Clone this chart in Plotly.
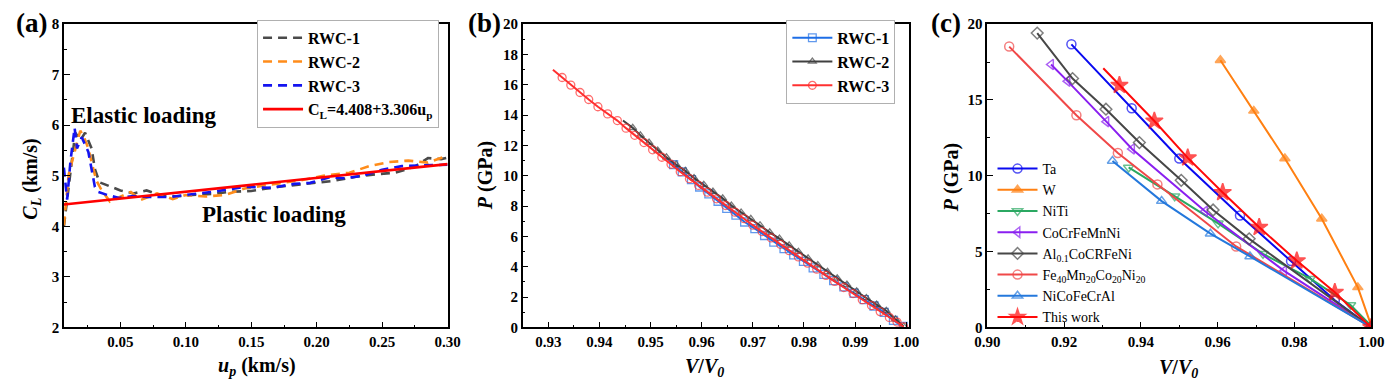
import plotly.graph_objects as go

FONT = "Liberation Serif"
W, H, OFF = 1392, 382, 8   # page body margin of 8px shifts the figure; fill the window exactly

# ---------------- Panel (a) data ----------------
a_u1 = [0.0068, 0.0105, 0.013, 0.0155, 0.0193, 0.023, 0.028, 0.0305, 0.034, 0.040, 0.050, 0.060, 0.070, 0.080,
        0.093, 0.105, 0.120, 0.133, 0.150, 0.170, 0.190, 0.213, 0.230, 0.245, 0.260, 0.275, 0.285, 0.295, 0.300]
a_c1 = [4.00, 4.78, 5.35, 5.85, 5.70, 5.85, 5.54, 5.13, 4.87, 4.81, 4.71, 4.65, 4.71, 4.62,
        4.59, 4.62, 4.64, 4.68, 4.70, 4.78, 4.84, 4.90, 4.98, 5.03, 5.06, 5.18, 5.35, 5.33, 5.36]
a_u2 = [0.0068, 0.0105, 0.013, 0.0193, 0.0218, 0.0255, 0.029, 0.0318, 0.0355, 0.042, 0.048, 0.058, 0.0655, 0.078,
        0.090, 0.100, 0.115, 0.130, 0.145, 0.170, 0.190, 0.205, 0.225, 0.240, 0.255, 0.270, 0.285, 0.298, 0.300]
a_c2 = [4.02, 5.03, 5.28, 5.89, 5.79, 5.54, 5.16, 4.90, 4.72, 4.49, 4.56, 4.68, 4.52, 4.65,
        4.54, 4.62, 4.59, 4.62, 4.75, 4.84, 4.92, 5.00, 5.06, 5.19, 5.27, 5.30, 5.26, 5.38, 5.40]
a_u3 = [0.0068, 0.0093, 0.0118, 0.0150, 0.0168, 0.0205, 0.0255, 0.0305, 0.033, 0.040, 0.049, 0.060, 0.070, 0.088,
        0.100, 0.120, 0.145, 0.165, 0.183, 0.195, 0.210, 0.222, 0.235, 0.250, 0.265, 0.280, 0.298, 0.300]
a_c3 = [5.16, 4.53, 5.28, 5.95, 5.54, 5.76, 5.47, 4.78, 4.68, 4.62, 4.56, 4.60, 4.58, 4.58,
        4.62, 4.68, 4.78, 4.76, 4.84, 4.86, 4.97, 4.95, 5.00, 5.12, 5.19, 5.20, 5.22, 5.22]
a_fit_u = [0.0068, 0.300]
a_fit_c = [4.43, 5.23]
a_names = ["RWC-1", "RWC-2", "RWC-3", "C<sub>L</sub>=4.408+3.306u<sub>p</sub>"]

# ---------------- Panel (b) data ----------------
b_v1 = [0.9528, 0.9545, 0.9562, 0.9580, 0.9596, 0.9614, 0.9632, 0.9649, 0.9667, 0.9684, 0.9704, 0.9723, 0.9741,
        0.9761, 0.9780, 0.9799, 0.9818, 0.9839, 0.9858, 0.9878, 0.9898, 0.9918, 0.9937, 0.9957, 0.9975, 0.9994]
b_p1 = [11.26, 10.74, 10.25, 9.75, 9.26, 8.80, 8.32, 7.85, 7.41, 6.95, 6.51, 6.06, 5.62,
        5.20, 4.78, 4.36, 3.92, 3.49, 3.09, 2.67, 2.25, 1.83, 1.41, 0.99, 0.46, 0.06]
b_v2 = [0.9446, 0.9465, 0.9480, 0.9497, 0.9514, 0.9531, 0.9550, 0.9568, 0.9585, 0.9604, 0.9622, 0.9641, 0.9658,
        0.9677, 0.9696, 0.9714, 0.9733, 0.9752, 0.9771, 0.9789, 0.9808, 0.9827, 0.9846, 0.9865, 0.9884, 0.9903,
        0.9922, 0.9942, 0.9961, 0.9979, 0.9995]
b_p2 = [13.64, 13.16, 12.67, 12.19, 11.66, 11.22, 10.74, 10.32, 9.85, 9.41, 8.95, 8.51, 8.04,
        7.58, 7.16, 6.74, 6.27, 5.85, 5.41, 4.99, 4.55, 4.11, 3.66, 3.24, 2.82, 2.38,
        1.94, 1.50, 1.09, 0.53, 0.06]
b_v3 = [0.9309, 0.9327, 0.9344, 0.9362, 0.9379, 0.9397, 0.9416, 0.9435, 0.9452, 0.9469, 0.9487, 0.9504, 0.9522,
        0.9540, 0.9558, 0.9576, 0.9594, 0.9611, 0.9629, 0.9647, 0.9665, 0.9683, 0.9700, 0.9718, 0.9736, 0.9754,
        0.9771, 0.9789, 0.9807, 0.9825, 0.9843, 0.9860, 0.9878, 0.9896, 0.9914, 0.9932, 0.9949, 0.9967, 0.9982, 0.9995]
b_p3 = [16.99, 16.48, 15.98, 15.49, 15.03, 14.55, 14.08, 13.64, 13.14, 12.67, 12.19, 11.71, 11.22,
        10.76, 10.27, 9.81, 9.36, 8.92, 8.48, 8.04, 7.60, 7.17, 6.74, 6.32, 5.90, 5.48,
        5.06, 4.65, 4.24, 3.84, 3.43, 3.03, 2.63, 2.23, 1.83, 1.44, 1.04, 0.66, 0.35, 0.04]
b_names = ["RWC-1", "RWC-2", "RWC-3"]

# ---------------- Panel (c) data ----------------
c_names = ["Ta", "W", "NiTi", "CoCrFeMnNi", "Al<sub>0.1</sub>CoCRFeNi",
           "Fe<sub>40</sub>Mn<sub>20</sub>Co<sub>20</sub>Ni<sub>20</sub>", "NiCoFeCrAl", "This work"]
c_v = [
    [0.9219, 0.9376, 0.9500, 0.9658, 0.9791, 0.9905, 1.0],
    [0.9607, 0.9694, 0.9775, 0.9871, 0.9965, 1.0],
    [0.9368, 0.9488, 0.9601, 0.9718, 0.9841, 0.9946, 1.0],
    [0.9166, 0.9209, 0.9310, 0.9377, 0.9567, 0.9773, 1.0],
    [0.9130, 0.9222, 0.9309, 0.9396, 0.9505, 0.9588, 0.9682, 1.0],
    [0.9057, 0.9232, 0.9340, 0.9443, 0.9648, 1.0],
    [0.9326, 0.9454, 0.9581, 0.9684, 1.0],
    [0.9302, 0.9344, 0.9435, 0.9522, 0.9613, 0.9708, 0.9806, 0.9905, 1.0],
]
c_p = [
    [18.67, 14.45, 11.14, 7.38, 4.37, 1.79, 0.0],
    [17.62, 14.28, 11.14, 7.17, 2.64, 0.1],
    [10.55, 8.65, 6.86, 4.85, 3.21, 1.48, 0.1],
    [17.34, 16.24, 13.57, 11.77, 7.66, 3.73, 0.0],
    [19.41, 16.41, 14.39, 12.19, 9.70, 7.74, 5.84, 0.0],
    [18.52, 13.99, 11.50, 9.43, 5.34, 0.0],
    [10.97, 8.33, 6.18, 4.68, 0.0],
    [17.09, 15.97, 13.61, 11.18, 8.90, 6.60, 4.39, 2.32, 0.0],
]
c_colors = ["#0A0AF0", "#FF8012", "#2BA862", "#8A1FF0", "#474747", "#F04848", "#2478DC", "#FF0A0A"]
c_symbols = ["circle-open", "triangle-up", "triangle-down-open", "triangle-left-open",
             "diamond-open", "circle-open", "triangle-up-open", "star"]


def fx(X):  # screen pixel -> paper fraction
    return (X - OFF) / W


def fy(Y):
    return 1 - (Y - OFF) / H


def B(s):
    return "<b>" + s + "</b>"


fig = go.Figure()

# Panel (a)
a_cols = ["#4A4A4A", "#FF8C1A", "#1414F0"]
for u, c, col, nm in zip([a_u1, a_u2, a_u3], [a_c1, a_c2, a_c3], a_cols, a_names[:3]):
    fig.add_trace(go.Scatter(x=u, y=c, mode="lines", name=B(nm), xaxis="x", yaxis="y", legend="legend",
                             line=dict(color=col, width=2.6, dash="9px,6px")))
fig.add_trace(go.Scatter(x=a_fit_u, y=a_fit_c, mode="lines", name=B(a_names[3]), xaxis="x", yaxis="y",
                         legend="legend", line=dict(color="#FF0000", width=2.6)))

# Panel (b)
b_cols = ["#1E6EE6", "#404040", "#FF3030"]
b_syms = ["square-open", "triangle-up-open", "circle-open"]
b_sizes = [8, 7, 8]
for v, p, col, sy, sz, nm in zip([b_v1, b_v2, b_v3], [b_p1, b_p2, b_p3], b_cols, b_syms, b_sizes, b_names):
    sizes = [0] + [sz] * (len(v) - 1)
    fig.add_trace(go.Scatter(x=v, y=p, mode="lines+markers", name=B(nm), xaxis="x2", yaxis="y2", legend="legend2",
                             line=dict(color=col, width=2),
                             marker=dict(symbol=sy, size=sizes, color=col, line=dict(width=1.3, color=col))))

# Panel (c)
for v, p, col, sy, nm in zip(c_v, c_p, c_colors, c_symbols, c_names):
    sz = 13 if sy == "star" else 9
    sizes = [sz] * len(v)
    if nm == "This work":
        sizes[0] = 0
    fig.add_trace(go.Scatter(x=v, y=p, mode="lines+markers", name=nm, xaxis="x3", yaxis="y3", legend="legend3",
                             line=dict(color=col, width=2),
                             marker=dict(symbol=sy, size=sizes, color=col, line=dict(width=1.5, color=col))))


def ax(domain, rng, tickvals, ticktext, minor_dtick, anchor):
    return dict(domain=domain, range=rng, tickvals=tickvals, ticktext=[B(t) for t in ticktext], anchor=anchor,
                showline=True, linecolor="black", linewidth=1.5, mirror=True, ticks="inside", ticklen=6,
                tickwidth=1.3, tickcolor="black", showgrid=False, zeroline=False,
                tickfont=dict(family=FONT, size=15, color="black"),
                minor=dict(ticks="inside", ticklen=3, tickwidth=1.2, tickcolor="black", dtick=minor_dtick,
                           tick0=0, showgrid=False))


ydom = [fy(333), fy(16.5)]
layout = dict(
    width=W, height=H, margin=dict(l=0, r=0, t=0, b=0),
    paper_bgcolor="white", plot_bgcolor="white", showlegend=True,
    xaxis=ax([fx(51.7), fx(442.7)], [0.0068, 0.30], [0.05, 0.10, 0.15, 0.20, 0.25, 0.30],
             ["0.05", "0.10", "0.15", "0.20", "0.25", "0.30"], 0.025, "y"),
    yaxis=ax(ydom, [2, 8], [2, 3, 4, 5, 6, 7, 8], ["2", "3", "4", "5", "6", "7", "8"], 0.5, "x"),
    xaxis2=ax([fx(519.3), fx(912.7)], [0.925, 1.0005], [0.93, 0.94, 0.95, 0.96, 0.97, 0.98, 0.99, 1.00],
              ["0.93", "0.94", "0.95", "0.96", "0.97", "0.98", "0.99", "1.00"], 0.005, "y2"),
    yaxis2=ax(ydom, [0, 20], list(range(0, 21, 2)), [str(t) for t in range(0, 21, 2)], 1, "x2"),
    xaxis3=ax([fx(992.7), fx(1384)], [0.90, 1.0], [0.90, 0.92, 0.94, 0.96, 0.98, 1.00],
              ["0.90", "0.92", "0.94", "0.96", "0.98", "1.00"], 0.01, "y3"),
    yaxis3=ax(ydom, [0, 20], [0, 5, 10, 15, 20], ["0", "5", "10", "15", "20"], 2.5, "x3"),
    legend=dict(x=fx(434), y=fy(12), xanchor="right", yanchor="top", bgcolor="white",
                bordercolor="#B0B0B0", borderwidth=1, font=dict(family=FONT, size=16, color="black"),
                itemwidth=40),
    legend2=dict(x=fx(899), y=fy(12), xanchor="right", yanchor="top", bgcolor="white",
                 bordercolor="#B0B0B0", borderwidth=1, font=dict(family=FONT, size=16, color="black"),
                 itemwidth=40),
    legend3=dict(x=fx(998), y=fy(151), xanchor="left", yanchor="top", bgcolor="rgba(0,0,0,0)",
                 borderwidth=0, font=dict(family=FONT, size=14, color="black"), itemwidth=40,
                 tracegroupgap=0),
)
fig.update_layout(**layout)


def ann(text, X, Y, size, rot=0):
    fig.add_annotation(text=B(text), x=fx(X), y=fy(Y), xref="paper", yref="paper",
                       showarrow=False, textangle=rot, xanchor="center", yanchor="middle",
                       font=dict(family=FONT, size=size, color="black"))


# panel labels
ann("(a)", 19, 15, 27)
ann("(b)", 480, 15, 27)
ann("(c)", 951, 15, 27)
# annotations in (a)
ann("Elastic loading", 133, 112, 23)
ann("Plastic loading", 266, 215, 23)
# axis titles
ann("<i>u</i><sub><i>p</i></sub> (km/s)", 248, 374, 20)
ann("<i>C</i><sub><i>L</i></sub> (km/s)", 19, 178, 20, rot=-90)
ann("<i>V</i>/<i>V</i><sub><i>0</i></sub>", 705, 375, 20)
ann("<i>P</i> (GPa)", 481, 175, 20, rot=-90)
ann("<i>V</i>/<i>V</i><sub><i>0</i></sub>", 1188, 376, 20)
ann("<i>P</i> (GPa)", 957, 177, 20, rot=-90)

fig.write_html("out.html")
